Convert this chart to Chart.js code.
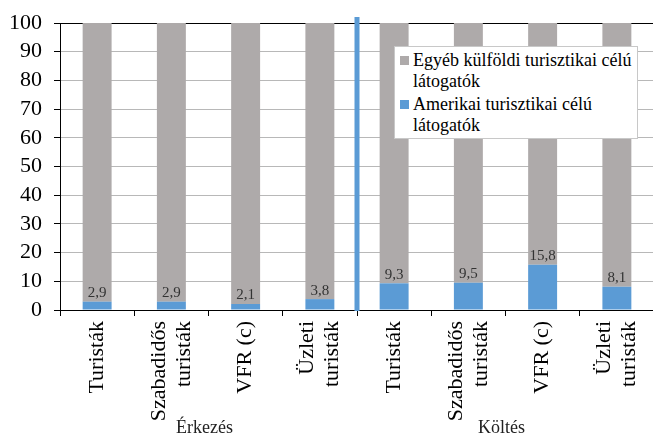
<!DOCTYPE html>
<html lang="hu">
<head>
    <meta charset="UTF-8">
    <title>Amerikai turisztikai célú látogatók aránya</title>
    <script src="https://cdn.jsdelivr.net/npm/chart.js"></script>
    <style>
        body {
            margin: 0;
            padding: 0;
            background: #fff;
            overflow: hidden;
        }
        #wrap {
            position: relative;
            width: 660px;
            height: 436px;
        }
        #title {
            position: absolute;
            right: 83px;
            top: -25px;
            font-family: "Liberation Serif", "Times New Roman", "DejaVu Serif", serif;
            font-size: 20px;
            line-height: 20px;
            color: #4a8bd0;
            white-space: nowrap;
        }
        #legend {
            position: absolute;
            left: 394px;
            top: 46px;
            width: 242px;
            height: 91px;
            background: #fff;
            border: 1px solid #c8c8c8;
            font-family: "Liberation Serif", "Times New Roman", "DejaVu Serif", serif;
            font-size: 18px;
            line-height: 21px;
            color: #000;
            white-space: nowrap;
        }
        .item {
            position: relative;
            padding-left: 18px;
            margin-top: 3px;
        }
        .item + .item { margin-top: 2px; }
        .item span {
            position: absolute;
            left: 5px;
            top: 6px;
            width: 9px;
            height: 9px;
        }
    </style>
</head>
<body>
<div id="wrap">
    <canvas id="chart" width="660" height="436"></canvas>
    <div id="title">Megoszlás az utazás célja alapján, 2010 (%)</div>
    <div id="legend"></div>
</div>

<script>
    // kategóriák (kétsoros címkék tömbként)
    const categories = [
        ["Turisták"], ["Szabadidős", "turisták"], ["VFR (c)"], ["Üzleti", "turisták"],
        ["Turisták"], ["Szabadidős", "turisták"], ["VFR (c)"], ["Üzleti", "turisták"]
    ];
    const groups = ["Érkezés", "Költés"];

    const americanName = ["Amerikai turisztikai célú", "látogatók"];
    const otherName = ["Egyéb külföldi turisztikai célú", "látogatók"];

    const americanValues = [2.9, 2.9, 2.1, 3.8, 9.3, 9.5, 15.8, 8.1];
    const otherValues = [97.1, 97.1, 97.9, 96.2, 90.7, 90.5, 84.2, 91.9];

    const yTicks = [0, 10, 20, 30, 40, 50, 60, 70, 80, 90, 100];

    const blue = '#5b9bd5';
    const gray = '#aeaaaa';
    const serif = '"Liberation Serif", "Times New Roman", "DejaVu Serif", serif';
    const xFontSize = 22;
    const xLineHeight = 1.15;

    // jelmagyarázat HTML-ben (többsoros szöveg miatt)
    const legendEl = document.getElementById('legend');
    [[otherName, gray], [americanName, blue]].forEach(([name, color]) => {
        const div = document.createElement('div');
        div.className = 'item';
        div.innerHTML = '<span style="background:' + color + '"></span>' + name.join('<br>');
        legendEl.appendChild(div);
    });

    // kétsoros x címkék középre igazítása a tick körül
    const centerLabels = {
        id: 'centerLabels',
        beforeDraw(chart) {
            const lh = xFontSize * xLineHeight;
            chart.scales.x.getLabelItems().forEach(item => {
                if (item._shifted) return;
                const n = Array.isArray(item.label) ? item.label.length : 1;
                item.options.translation[0] -= (n - 1) * lh / 2;
                item._shifted = true;
            });
        }
    };

    // értékcímkék, elválasztó vonal, csoportcímkék
    const extras = {
        id: 'extras',
        afterDatasetsDraw(chart) {
            const ctx = chart.ctx;
            const x = chart.scales.x;
            const area = chart.chartArea;

            ctx.save();
            ctx.font = '15px ' + serif;
            ctx.fillStyle = '#333';
            ctx.textAlign = 'center';
            ctx.textBaseline = 'bottom';
            chart.getDatasetMeta(0).data.forEach((bar, i) => {
                ctx.fillText(String(americanValues[i]).replace('.', ','), bar.x, bar.y - 1);
            });

            // kék függőleges elválasztó
            const sep = (x.getPixelForValue(3) + x.getPixelForValue(4)) / 2;
            ctx.fillStyle = blue;
            ctx.fillRect(sep - 2.5, area.top - 6, 5, area.bottom - area.top + 7);

            // csoportcímkék
            ctx.font = '18px ' + serif;
            ctx.fillStyle = '#222';
            ctx.textBaseline = 'middle';
            const g1 = (x.getPixelForValue(0) + x.getPixelForValue(3)) / 2;
            const g2 = (x.getPixelForValue(4) + x.getPixelForValue(7)) / 2;
            ctx.fillText(groups[0], g1 - 4, 428);
            ctx.fillText(groups[1], g2 - 4, 428);
            ctx.restore();
        }
    };

    new Chart(document.getElementById('chart'), {
        type: 'bar',
        data: {
            labels: categories,
            datasets: [
                {
                    label: americanName.join(' '),
                    data: americanValues,
                    backgroundColor: blue,
                    categoryPercentage: 1,
                    barPercentage: 0.39
                },
                {
                    label: otherName.join(' '),
                    data: otherValues,
                    backgroundColor: gray,
                    categoryPercentage: 1,
                    barPercentage: 0.39
                }
            ]
        },
        options: {
            responsive: false,
            animation: false,
            devicePixelRatio: 1,
            layout: { padding: { top: 23, right: 6, left: 0, bottom: 0 } },
            plugins: {
                legend: { display: false },
                tooltip: { enabled: false }
            },
            scales: {
                x: {
                    stacked: true,
                    afterFit(scale) {
                        scale.height = 126;
                        scale.paddingLeft = 0;
                        scale.paddingRight = 0;
                    },
                    grid: {
                        offset: true,
                        drawOnChartArea: false,
                        tickLength: 6,
                        tickColor: '#000'
                    },
                    border: { color: '#000', width: 1 },
                    ticks: {
                        autoSkip: false,
                        minRotation: 90,
                        maxRotation: 90,
                        padding: 5,
                        color: '#000',
                        font: { family: serif, size: xFontSize, lineHeight: xLineHeight }
                    }
                },
                y: {
                    stacked: true,
                    min: 0,
                    max: 100,
                    afterFit(scale) {
                        scale.width = 60;
                        scale.paddingTop = 0;
                        scale.paddingBottom = 0;
                    },
                    afterBuildTicks(scale) { scale.ticks = yTicks.map(v => ({ value: v })); },
                    grid: {
                        color: c => (c.tick && c.tick.value === 100) ? '#000' : '#b8b8b8',
                        tickColor: '#000',
                        tickLength: 6
                    },
                    border: { color: '#000', width: 1 },
                    ticks: {
                        autoSkip: false,
                        padding: 12,
                        color: '#000',
                        font: { family: serif, size: 22 }
                    }
                }
            }
        },
        plugins: [centerLabels, extras]
    });
</script>
</body>
</html>
